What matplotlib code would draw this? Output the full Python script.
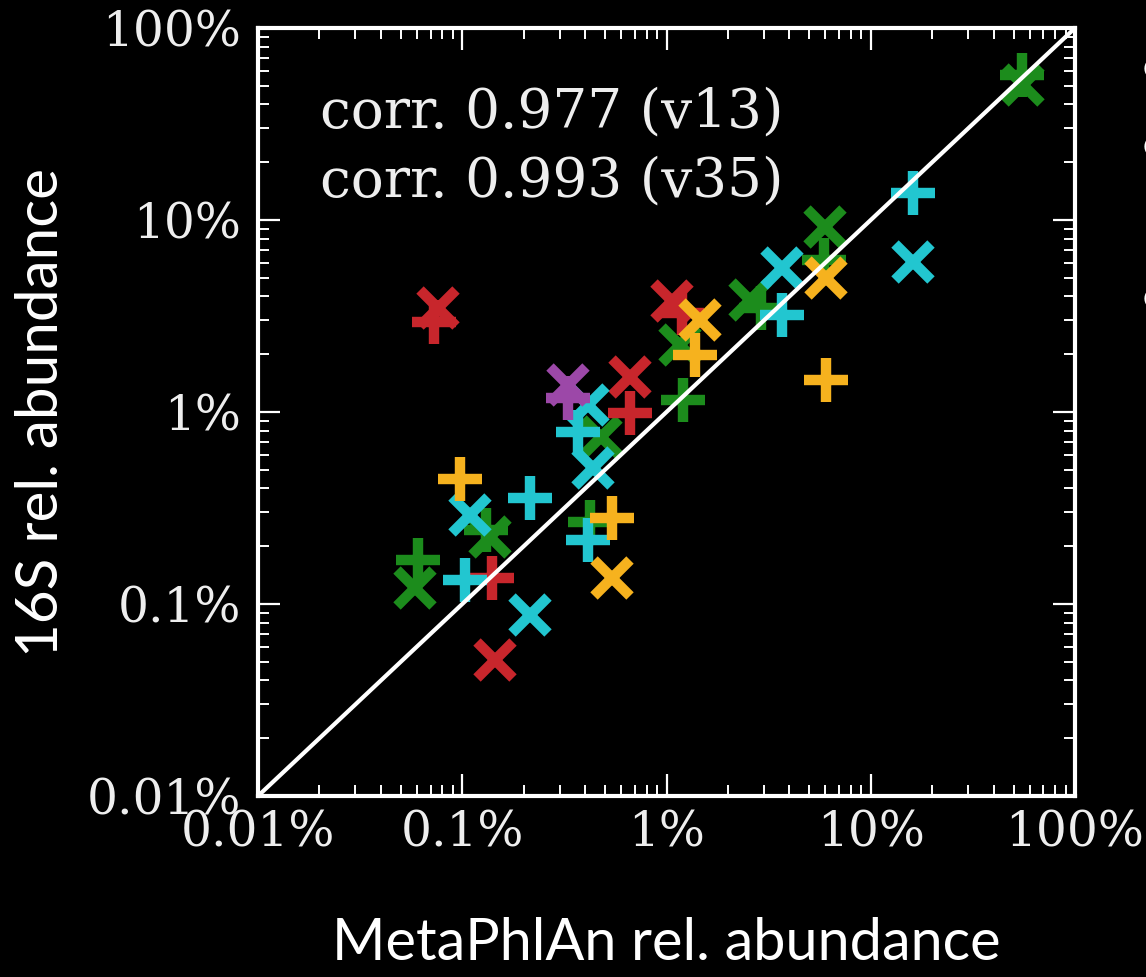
import matplotlib
matplotlib.use("Agg")
import matplotlib.pyplot as plt
from matplotlib.ticker import FixedLocator, LogLocator, NullFormatter

# relative abundances in percent: MetaPhlAn (x) vs 16S (y)
# "x" markers = v13 region, "+" markers = v35 region
red_v13_x = [0.076, 1.06, 0.66, 0.145]
red_v13_y = [3.5, 3.8, 1.52, 0.051]
red_v35_x = [0.073, 1.19, 0.66, 0.14]
red_v35_y = [2.94, 3.28, 0.99, 0.136]

green_v13_x = [55.6, 5.97, 2.56, 1.16, 0.48, 0.137, 0.059]
green_v13_y = [50.5, 9.2, 3.83, 2.23, 0.74, 0.223, 0.121]
green_v35_x = [55.0, 5.9, 2.9, 1.2, 0.42, 0.13, 0.061]
green_v35_y = [56.9, 6.19, 3.5, 1.15, 0.267, 0.243, 0.17]

cyan_v13_x = [16.1, 3.68, 0.413, 0.437, 0.109, 0.215]
cyan_v13_y = [6.04, 5.62, 1.09, 0.51, 0.291, 0.0877]
cyan_v35_x = [16.1, 3.68, 0.37, 0.215, 0.103, 0.413]
cyan_v35_y = [13.8, 3.2, 0.787, 0.356, 0.133, 0.215]

orange_v13_x = [6.04, 1.46, 0.54]
orange_v13_y = [4.99, 3.01, 0.136]
orange_v35_x = [6.04, 1.38, 0.54, 0.0975]
orange_v35_y = [1.47, 1.98, 0.28, 0.45]

purple_v13_x = [0.33]
purple_v13_y = [1.38]
purple_v35_x = [0.33]
purple_v35_y = [1.18]

tick_vals = [0.01, 0.1, 1, 10, 100]
tick_labels = ["0.01%", "0.1%", "1%", "10%", "100%"]
corr_lines = ["corr. 0.977 (v13)", "corr. 0.993 (v35)"]

series = [
    ("#1c8c1c", green_v13_x, green_v13_y, green_v35_x, green_v35_y),
    ("#c8262c", red_v13_x, red_v13_y, red_v35_x, red_v35_y),
    ("#22c6d0", cyan_v13_x, cyan_v13_y, cyan_v35_x, cyan_v35_y),
    ("#f6b21e", orange_v13_x, orange_v13_y, orange_v35_x, orange_v35_y),
    ("#9c48a8", purple_v13_x, purple_v13_y, purple_v35_x, purple_v35_y),
]

fig = plt.figure(figsize=(11.46, 9.77), dpi=100, facecolor="black")
ax = fig.add_axes([258 / 1146, 181 / 977, 817 / 1146, 768 / 977])
ax.set_facecolor("black")

for color, x13, y13, x35, y35 in series:
    ax.plot(x13, y13, linestyle="none", marker="x", ms=26, mew=7.5, color=color, zorder=3)
    ax.plot(x35, y35, linestyle="none", marker="+", ms=31, mew=7.5, color=color, zorder=3)

lims = [tick_vals[0], tick_vals[-1]]
ax.plot(lims, lims, color="white", lw=3, zorder=5)

ax.set_xscale("log")
ax.set_yscale("log")
ax.set_xlim(lims)
ax.set_ylim(lims)

for axis in (ax.xaxis, ax.yaxis):
    axis.set_major_locator(FixedLocator(tick_vals))
    axis.set_minor_locator(LogLocator(base=10, subs=range(2, 10), numticks=20))
    axis.set_minor_formatter(NullFormatter())
ax.set_xticklabels(tick_labels)
ax.set_yticklabels(tick_labels)

ax.tick_params(which="both", direction="in", top=True, right=True, colors="white")
ax.tick_params(which="major", length=16, width=1.6, labelsize=35)
ax.tick_params(axis="x", which="major", pad=10)
ax.tick_params(axis="y", which="major", pad=12)
ax.tick_params(which="minor", length=8, width=1.4)
for lab in ax.get_xticklabels() + ax.get_yticklabels():
    lab.set_family("DejaVu Serif")
    lab.set_color("#eeeeee")

for sp in ax.spines.values():
    sp.set_color("white")
    sp.set_linewidth(3)

ax.text(0.076, 0.871, corr_lines[0], transform=ax.transAxes, color="#eeeeee",
        fontsize=39.5, family="DejaVu Serif", va="baseline", ha="left")
ax.text(0.076, 0.780, corr_lines[1], transform=ax.transAxes, color="#eeeeee",
        fontsize=39.5, family="DejaVu Serif", va="baseline", ha="left")

fig.text(666 / 1146, 1 - 943 / 977, "MetaPhlAn rel. abundance", color="white",
         fontsize=41.5, family="Lato", ha="center", va="center")
fig.text(42 / 1146, 1 - 412 / 977, "16S rel. abundance", color="white",
         fontsize=42, family="Lato", ha="center", va="center", rotation=90)

# cut-off slide bullets at the right edge
for yb in [70, 147, 300]:
    fig.text(1138 / 1146, 1 - yb / 977, "\u2022", color="white", fontsize=44,
             family="Lato", ha="left", va="center")

fig.savefig("out.png", dpi=100, facecolor="black")
